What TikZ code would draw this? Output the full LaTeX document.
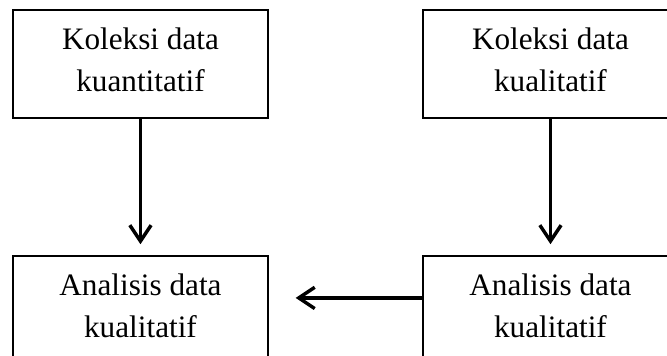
\documentclass[tikz,border=0pt]{standalone}
\usepackage{fontspec}
\setmainfont{Liberation Serif}
\usetikzlibrary{arrows.meta}

\begin{document}
\begin{tikzpicture}[
		kotak/.style={draw=black, line width=1.2pt, minimum width=6.75cm, minimum height=2.86cm, inner sep=0pt, text depth=6pt, align=center, font=\fontsize{23.5}{31.5}\selectfont},
		panah/.style={line width=2.6pt, -{Straight Barb[length=12pt,width=16pt]}}
	]
				\useasboundingbox (0, 0) rectangle (17.648, 9.393);
				\clip (0, 0) rectangle (17.648, 9.393);
				\node[kotak] (kuan) at (3.717, 7.7) {Koleksi data\\kuantitatif};
				\node[kotak] (kual) at (14.565, 7.7) {Koleksi data\\kualitatif};
				\node[kotak] (analkiri) at (3.717, 1.19) {Analisis data\\kualitatif};
				\node[kotak] (analkanan) at (14.565, 1.19) {Analisis data\\kualitatif};
				\draw [panah, shorten >=0.29cm](kuan) -- (analkiri);
				\draw [panah, shorten >=0.29cm](kual) -- (analkanan);
				\draw [panah, shorten >=0.71cm]([yshift=0.32cm]analkanan.west) -- ([yshift=0.32cm]analkiri.east);
			\end{tikzpicture}
\end{document}
